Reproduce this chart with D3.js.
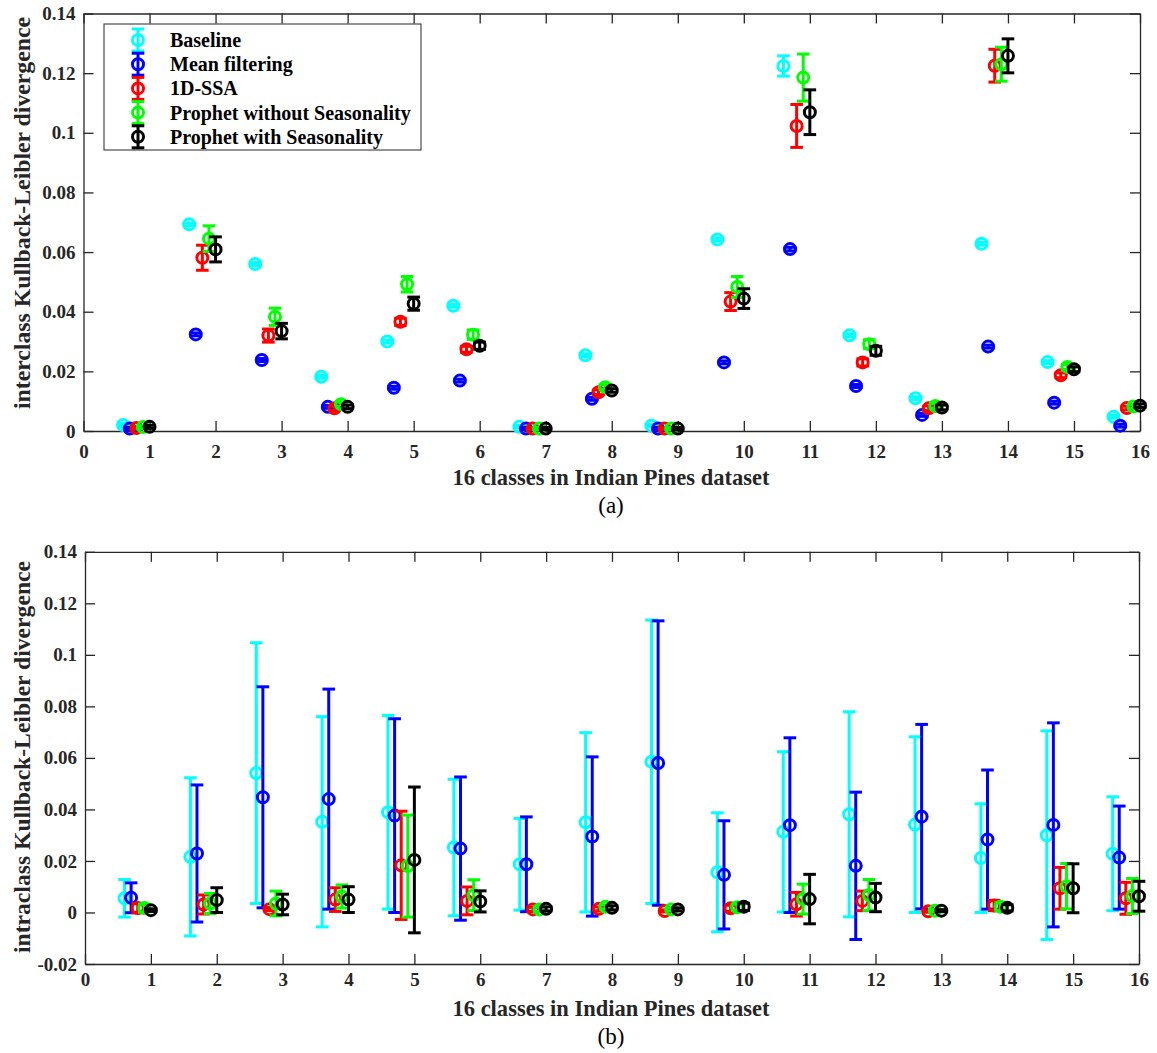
<!DOCTYPE html>
<html><head><meta charset="utf-8">
<script src="https://cdn.jsdelivr.net/npm/d3@7"></script>
<style>body{margin:0;background:#fff}svg{display:block}text{font-family:"Liberation Serif","Times New Roman",serif}</style>
</head><body>
<svg id="c" width="1157" height="1053"></svg>
<script>
// ---------- DATA ----------
const classes = d3.range(1, 17);
const seriesNames = ["Baseline", "Mean filtering", "1D-SSA", "Prophet without Seasonality", "Prophet with Seasonality"];
const seriesColors = ["#00FFFF", "#0000FF", "#FF0000", "#00FF00", "#000000"];
const xOffsets = [-0.4, -0.3, -0.2, -0.1, 0];
const xTicks = d3.range(0, 17);
const yTicksA = [0, 0.02, 0.04, 0.06, 0.08, 0.1, 0.12, 0.14];
const yTicksB = [-0.02, 0, 0.02, 0.04, 0.06, 0.08, 0.1, 0.12, 0.14];

// (a) interclass KL divergence: means and error half-widths
const interBaseline      = [0.0020,0.0693,0.0560,0.0182,0.0300,0.0420,0.0014,0.0254,0.0018,0.0642,0.1224,0.0321,0.0110,0.0628,0.0231,0.0048];
const interBaselineErr   = [0.0005,0.0005,0.0005,0.0005,0.0005,0.0005,0.0004,0.0005,0.0004,0.0005,0.0034,0.0005,0.0005,0.0005,0.0005,0.0005];
const interMean          = [0.0008,0.0324,0.0238,0.0081,0.0145,0.0169,0.0008,0.0108,0.0008,0.0230,0.0610,0.0151,0.0054,0.0283,0.0095,0.0018];
const interMeanErr       = [0.0004,0.0005,0.0005,0.0005,0.0005,0.0005,0.0004,0.0005,0.0004,0.0005,0.0006,0.0005,0.0005,0.0005,0.0005,0.0005];
const interSSA           = [0.0010,0.0581,0.0320,0.0076,0.0366,0.0274,0.0008,0.0130,0.0008,0.0434,0.1023,0.0230,0.0076,0.1225,0.0187,0.0077];
const interSSAErr        = [0.0005,0.0042,0.0022,0.0008,0.0012,0.0010,0.0004,0.0008,0.0004,0.0030,0.0072,0.0012,0.0008,0.0055,0.0008,0.0006];
const interProphetNS     = [0.0013,0.0645,0.0383,0.0090,0.0492,0.0323,0.0008,0.0147,0.0008,0.0483,0.1185,0.0291,0.0084,0.1230,0.0215,0.0082];
const interProphetNSErr  = [0.0005,0.0043,0.0029,0.0008,0.0026,0.0016,0.0004,0.0008,0.0004,0.0035,0.0079,0.0015,0.0008,0.0057,0.0008,0.0006];
const interProphetS      = [0.0014,0.0609,0.0335,0.0081,0.0427,0.0286,0.0008,0.0136,0.0008,0.0444,0.1069,0.0269,0.0079,0.1258,0.0207,0.0085];
const interProphetSErr   = [0.0005,0.0042,0.0026,0.0006,0.0022,0.0012,0.0004,0.0006,0.0004,0.0033,0.0075,0.0015,0.0008,0.0057,0.0008,0.0006];

// (b) intraclass KL divergence: means and error half-widths
const intraBaseline      = [0.0055,0.0216,0.0541,0.0352,0.0389,0.0252,0.0187,0.0350,0.0585,0.0156,0.0313,0.0381,0.0341,0.0211,0.0300,0.0228];
const intraBaselineErr   = [0.0073,0.0307,0.0506,0.0408,0.0376,0.0265,0.0178,0.0348,0.0550,0.0231,0.0311,0.0398,0.0341,0.0211,0.0405,0.0221];
const intraMean          = [0.0057,0.0229,0.0447,0.0440,0.0376,0.0248,0.0187,0.0295,0.0580,0.0146,0.0339,0.0181,0.0372,0.0283,0.0340,0.0213];
const intraMeanErr       = [0.0058,0.0266,0.0429,0.0427,0.0376,0.0278,0.0184,0.0309,0.0552,0.0210,0.0339,0.0286,0.0358,0.0270,0.0396,0.0200];
const intraSSA           = [0.0017,0.0031,0.0013,0.0050,0.0183,0.0045,0.0012,0.0014,0.0006,0.0016,0.0032,0.0045,0.0005,0.0027,0.0094,0.0055];
const intraSSAErr        = [0.0018,0.0037,0.0006,0.0046,0.0210,0.0054,0.0008,0.0008,0.0004,0.0012,0.0046,0.0038,0.0004,0.0020,0.0081,0.0062];
const intraProphetNS     = [0.0017,0.0035,0.0035,0.0062,0.0180,0.0067,0.0012,0.0022,0.0012,0.0020,0.0052,0.0068,0.0007,0.0022,0.0102,0.0064];
const intraProphetNSErr  = [0.0015,0.0039,0.0048,0.0045,0.0198,0.0060,0.0008,0.0008,0.0006,0.0012,0.0058,0.0060,0.0004,0.0015,0.0088,0.0068];
const intraProphetS      = [0.0009,0.0048,0.0031,0.0050,0.0204,0.0043,0.0014,0.0018,0.0012,0.0022,0.0052,0.0058,0.0007,0.0018,0.0094,0.0063];
const intraProphetSErr   = [0.0005,0.0048,0.0040,0.0050,0.0283,0.0041,0.0008,0.0008,0.0006,0.0014,0.0096,0.0055,0.0004,0.0012,0.0095,0.0058];

const panelA = {
  means: [interBaseline, interMean, interSSA, interProphetNS, interProphetS],
  errs:  [interBaselineErr, interMeanErr, interSSAErr, interProphetNSErr, interProphetSErr],
  yDomain: [0, 0.14], yTicks: yTicksA,
  xRange: [83.5, 1140], yRange: [431, 13.5],
  ylabel: "interclass Kullback-Leibler divergence", ylabelY: 213,
  tickY: 458, xlabelY: 485, caption: "(a)", captionY: 513, legend: true
};
const panelB = {
  means: [intraBaseline, intraMean, intraSSA, intraProphetNS, intraProphetS],
  errs:  [intraBaselineErr, intraMeanErr, intraSSAErr, intraProphetNSErr, intraProphetSErr],
  yDomain: [-0.02, 0.14], yTicks: yTicksB,
  xRange: [85, 1139], yRange: [964, 551.8],
  ylabel: "intraclass Kullback-Leibler divergence", ylabelY: 757,
  tickY: 986, xlabelY: 1016, caption: "(b)", captionY: 1044, legend: false
};

// ---------- DRAW ----------
const svg = d3.select("#c");
const axisColor = "#262626";
const fmt = d => d === 0 ? "0" : String(+d.toFixed(2));
const R = 5.5, CAP = 6.3, LW = 3;

function drawMarker(g, cx, cy, yTop, yBot, color) {
  g.append("line").attr("x1", cx).attr("x2", cx).attr("y1", yTop).attr("y2", yBot)
    .attr("stroke", color).attr("stroke-width", LW);
  [yTop, yBot].forEach(yy => g.append("line").attr("x1", cx - CAP).attr("x2", cx + CAP)
    .attr("y1", yy).attr("y2", yy).attr("stroke", color).attr("stroke-width", LW));
  g.append("circle").attr("cx", cx).attr("cy", cy).attr("r", R)
    .attr("fill", "none").attr("stroke", color).attr("stroke-width", LW);
}

function drawPanel(p) {
  const x = d3.scaleLinear().domain([0, 16]).range(p.xRange);
  const y = d3.scaleLinear().domain(p.yDomain).range(p.yRange);
  const g = svg.append("g");
  const [x0, x1] = p.xRange, [y0, y1] = p.yRange;

  const bottom = g.append("g").attr("transform", `translate(0,${y0})`)
    .call(d3.axisBottom(x).tickValues(xTicks).tickSizeInner(-10).tickSizeOuter(0).tickFormat(d3.format("d")));
  const top = g.append("g").attr("transform", `translate(0,${y1})`)
    .call(d3.axisTop(x).tickValues(xTicks).tickSizeInner(-10).tickSizeOuter(0).tickFormat(""));
  const left = g.append("g").attr("transform", `translate(${x0},0)`)
    .call(d3.axisLeft(y).tickValues(p.yTicks).tickSizeInner(-10).tickSizeOuter(0).tickPadding(8).tickFormat(fmt));
  const right = g.append("g").attr("transform", `translate(${x1},0)`)
    .call(d3.axisRight(y).tickValues(p.yTicks).tickSizeInner(-10).tickSizeOuter(0).tickFormat(""));
  [bottom, top, left, right].forEach(a => {
    a.selectAll("path,line").attr("stroke", axisColor).attr("stroke-width", 1.3);
    a.selectAll("text").attr("fill", axisColor).attr("font-size", 19).attr("font-weight", "bold")
      .attr("font-family", "Liberation Serif");
  });
  bottom.selectAll(".tick text").attr("y", p.tickY - y0).attr("dy", 0);

  const marks = g.append("g");
  p.means.forEach((arr, si) => {
    const sg = marks.append("g");
    classes.forEach((c, i) => {
      const m = arr[i], e = p.errs[si][i];
      drawMarker(sg, x(c + xOffsets[si]), y(m), y(m + e), y(m - e), seriesColors[si]);
    });
  });

  g.append("text").attr("transform", `translate(22,${p.ylabelY}) rotate(-90)`)
    .attr("text-anchor", "middle").attr("dominant-baseline", "central")
    .attr("font-size", 23).attr("font-weight", "bold").attr("fill", axisColor)
    .attr("textLength", 392).attr("lengthAdjust", "spacingAndGlyphs").text(p.ylabel);
  g.append("text").attr("x", 611).attr("y", p.xlabelY).attr("text-anchor", "middle")
    .attr("font-size", 23).attr("font-weight", "bold").attr("fill", axisColor)
    .attr("textLength", 317).attr("lengthAdjust", "spacingAndGlyphs").text("16 classes in Indian Pines dataset");
  g.append("text").attr("x", 611).attr("y", p.captionY).attr("text-anchor", "middle")
    .attr("font-size", 23).attr("fill", "#000").text(p.caption);

  if (p.legend) {
    const lg = g.append("g");
    lg.append("rect").attr("x", 104).attr("y", 24).attr("width", 317).attr("height", 126)
      .attr("fill", "#fff").attr("stroke", axisColor).attr("stroke-width", 1);
    seriesNames.forEach((n, i) => {
      const yy = 40 + i * 24.2;
      drawMarker(lg, 138, yy, yy - 11, yy + 11, seriesColors[i]);
      lg.append("text").attr("x", 170).attr("y", yy).attr("dominant-baseline", "central")
        .attr("font-size", 20).attr("font-weight", "bold").attr("fill", "#000").text(n);
    });
  }
}

drawPanel(panelA);
drawPanel(panelB);
</script>
</body></html>
